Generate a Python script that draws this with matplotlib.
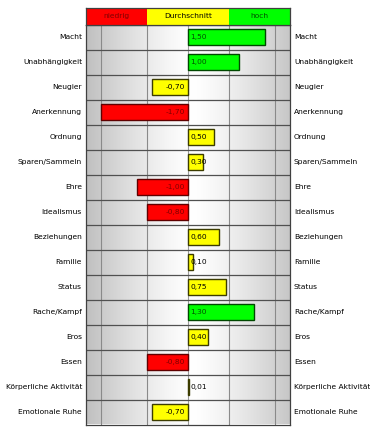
import matplotlib.pyplot as plt
import numpy as np

# data
labels = ["Macht", "Unabhängigkeit", "Neugier", "Anerkennung", "Ordnung",
          "Sparen/Sammeln", "Ehre", "Idealismus", "Beziehungen", "Familie",
          "Status", "Rache/Kampf", "Eros", "Essen", "Körperliche Aktivität",
          "Emotionale Ruhe"]
values = [1.50, 1.00, -0.70, -1.70, 0.50, 0.30, -1.00, -0.80, 0.60, 0.10,
          0.75, 1.30, 0.40, -0.80, 0.01, -0.70]
bands = ["niedrig", "Durchschnitt", "hoch"]
band_edges = [-2.0, -0.8, 0.8, 2.0]
grid_x = [-1.7, -0.8, 0.8, 1.7]

W, H = 370, 428
fig = plt.figure(figsize=(W / 100, H / 100), dpi=100)
fig.patch.set_facecolor("white")
fs = 5.4

left, right = 86, 290
top, bottom = 24.5, 424.5
ax = fig.add_axes([left / W, 1 - bottom / H, (right - left) / W, (bottom - top) / H])
hx = fig.add_axes([left / W, 1 - top / H, (right - left) / W, 16.5 / H])

n = len(labels)
ax.set_xlim(-2, 2)
ax.set_ylim(n - 0.5, -0.5)

# gray gradient background
xs = np.linspace(-2, 2, 400)
g = 1.0 - 0.25 * (np.abs(xs - 0.1) / 2.1) ** 1.3
img = np.dstack([g, g, g]).repeat(2, axis=0)
ax.imshow(img, extent=[-2, 2, n - 0.5, -0.5], aspect="auto", zorder=0)

for x in grid_x:
    ax.axvline(x, color="#8a8a8a", lw=0.8, zorder=1)
ax.axvline(0, color="#9a9a9a", lw=0.8, zorder=1)
for i in range(1, n):
    ax.axhline(i - 0.5, color="#505050", lw=0.9, zorder=1)


def colors(v):
    if v <= -0.8:
        return "#ff0000", "#600000", "#800000"
    if v >= 0.8:
        return "#00ff00", "#004800", "#005000"
    return "#ffff00", "#3c3c00", "#000000"


for i, (lab, v) in enumerate(zip(labels, values)):
    fc, ec, tc = colors(v)
    ax.barh(i, v, height=0.62, color=fc, edgecolor=ec, lw=1.0, zorder=2)
    txt = f"{v:.2f}".replace(".", ",")
    if v >= 0:
        ax.text(0.05, i, txt, ha="left", va="center", fontsize=fs, color=tc, zorder=3)
    else:
        ax.text(-0.05, i, txt, ha="right", va="center", fontsize=fs, color=tc, zorder=3)
    fig.text(82 / W, 1 - (37 + 25 * i) / H, lab, ha="right", va="center", fontsize=fs)
    fig.text(294 / W, 1 - (37 + 25 * i) / H, lab, ha="left", va="center", fontsize=fs)

ax.set_xticks([])
ax.set_yticks([])
for s in ax.spines.values():
    s.set_color("#404040")
    s.set_linewidth(0.9)

# header band
hx.set_xlim(-2, 2)
hx.set_ylim(0, 1)
band_cols = ["#ff0000", "#ffff00", "#00ff00"]
band_txt = ["#800000", "#000000", "#005000"]
for k in range(3):
    hx.axvspan(band_edges[k], band_edges[k + 1], color=band_cols[k], lw=0)
    hx.text((band_edges[k] + band_edges[k + 1]) / 2, 0.5, bands[k], ha="center",
            va="center", fontsize=fs, color=band_txt[k])
hx.set_xticks([])
hx.set_yticks([])
for s in hx.spines.values():
    s.set_color("#404040")
    s.set_linewidth(0.9)

fig.savefig("out.png", dpi=100)
